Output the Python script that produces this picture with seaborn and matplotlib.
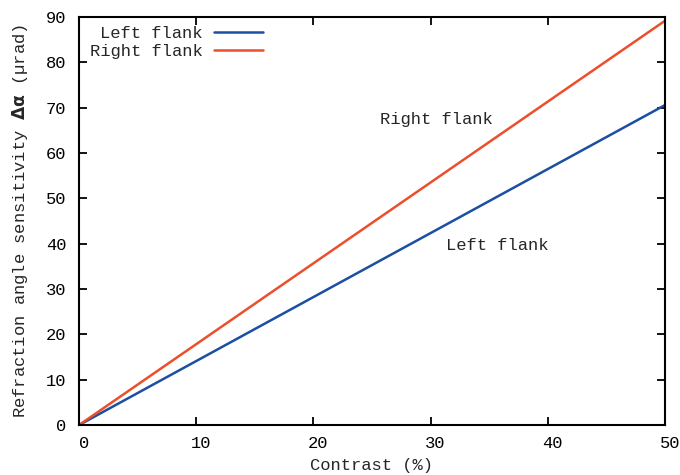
import pandas as pd
import matplotlib.pyplot as plt
import matplotlib.transforms as mtransforms
import seaborn as sns

# values (straight lines through the origin)
contrast = [0, 50]
left_flank = [0, 70.6]
right_flank = [0, 89.2]
series_names = ["Left flank", "Right flank"]
colors = ["#1c4fa1", "#eb4f2b"]

df = pd.concat([
    pd.DataFrame({"contrast": contrast, "sens": left_flank, "flank": series_names[0]}),
    pd.DataFrame({"contrast": contrast, "sens": right_flank, "flank": series_names[1]}),
])

sns.set_style("ticks")
plt.rcParams["font.family"] = ["Liberation Mono", "DejaVu Sans Mono"]
fs = 12.3
plt.rcParams["font.size"] = fs

fig = plt.figure(figsize=(6.8, 4.75), dpi=100)
ax = fig.add_axes([0.116, 0.105, 0.862, 0.859])

sns.lineplot(data=df, x="contrast", y="sens", hue="flank",
             palette=dict(zip(series_names, colors)), linewidth=1.8, ax=ax)

ax.set_xlim(0, 50)
ax.set_ylim(0, 90)
ax.set_xticks(range(0, 51, 10))
ax.set_yticks(range(0, 91, 10))
ax.tick_params(direction="in", length=6, width=1.3, top=True, right=True,
               labelsize=fs, colors="black")
ax.tick_params(axis="y", pad=9)
ax.tick_params(axis="x", pad=8)
# gnuplot puts the x tick labels a little to the right
shift = mtransforms.ScaledTranslation(0.05, 0, fig.dpi_scale_trans)
for lab in ax.get_xticklabels():
    lab.set_transform(lab.get_transform() + shift)
for sp in ax.spines.values():
    sp.set_linewidth(1.5)
    sp.set_color("black")

ax.set_xlabel("Contrast (%)", fontsize=fs)
ax.xaxis.set_label_coords(0.5, -0.08)
ax.set_ylabel("Refraction angle sensitivity $\\mathbf{\\Delta\\alpha}$ (µrad)", fontsize=fs)
ax.yaxis.set_label_coords(-0.084, 0.5)

ax.text(30.5, 67.5, "Right flank", ha="center", va="center", fontsize=fs)
ax.text(35.7, 39.7, "Left flank", ha="center", va="center", fontsize=fs)

leg = ax.legend(loc="upper left", markerfirst=False, frameon=False, fontsize=fs,
                handlelength=2.87, handletextpad=0.65, borderaxespad=0.0,
                labelspacing=0.15, bbox_to_anchor=(0.007, 0.995))
for t in leg.get_texts():
    t.set_ha("right")

fig.savefig("out.png", dpi=100)
